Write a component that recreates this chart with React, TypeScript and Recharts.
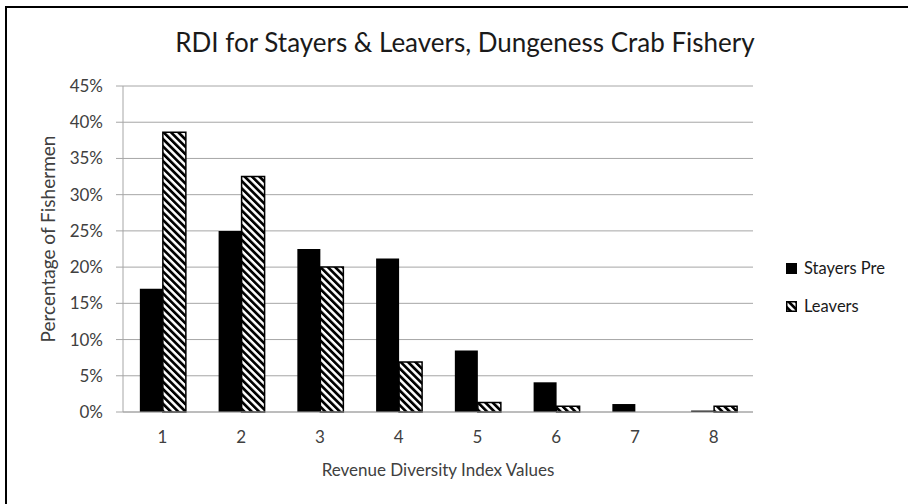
import { BarChart, Bar, XAxis, YAxis, CartesianGrid } from "recharts";

const categories = ["1", "2", "3", "4", "5", "6", "7", "8"];
const stayersPre = [17.0, 25.0, 22.5, 21.2, 8.5, 4.1, 1.1, 0.2];
const leavers = [38.6, 32.5, 20.0, 6.9, 1.3, 0.8, 0, 0.8];
const yTicks = [0, 5, 10, 15, 20, 25, 30, 35, 40, 45];

const data = categories.map((name, i) => ({
  name,
  stayers: stayersPre[i],
  leavers: leavers[i],
}));

const FONT = "Lato, sans-serif";
const TEXT = "#404040";
const GRID = "#a6a6a6";

const HatchDef = ({ id }: { id: string }) => (
  <pattern
    id={id}
    patternUnits="userSpaceOnUse"
    width={5.2}
    height={5.2}
    patternTransform="rotate(-45)"
  >
    <rect x={0} y={0} width={5.2} height={5.2} fill="#fff" />
    <rect x={0} y={0} width={2.7} height={5.2} fill="#000" />
  </pattern>
);

// legend drawn outside recharts so it doesn't eat into the plot area
const ChartLegend = () => (
  <div
    style={{
      position: "absolute",
      left: 786,
      top: 258,
      fontFamily: FONT,
      fontSize: 16.5,
      color: "#1a1a1a",
    }}
  >
    <div style={{ display: "flex", alignItems: "center", height: 20 }}>
      <svg width={11} height={11} style={{ marginRight: 7 }}>
        <rect x={0} y={0} width={11} height={11} fill="#000" />
      </svg>
      Stayers Pre
    </div>
    <div
      style={{ display: "flex", alignItems: "center", height: 20, marginTop: 18 }}
    >
      <svg width={11} height={11} style={{ marginRight: 7 }}>
        <defs>
          <HatchDef id="hatchLegend" />
        </defs>
        <rect
          x={0.75}
          y={0.75}
          width={9.5}
          height={9.5}
          fill="url(#hatchLegend)"
          stroke="#000"
          strokeWidth={1.5}
        />
      </svg>
      Leavers
    </div>
  </div>
);

export default function App() {
  return (
    <div style={{ position: "fixed", left: 0, top: 0, width: 908, height: 504, background: "#fff" }}>
      <div
        style={{
          position: "absolute",
          left: 5,
          top: 6,
          width: 930,
          height: 530,
          borderTop: "2px solid #000",
          borderLeft: "2px solid #000",
        }}
      />
      <BarChart
        width={908}
        height={504}
        data={data}
        margin={{ top: 86, right: 155, bottom: 32, left: 0 }}
        barCategoryGap="21.4%"
        barGap={0}
        style={{ position: "absolute", left: 0, top: 0 }}
      >
        <defs>
          <HatchDef id="hatchBar" />
        </defs>
        <CartesianGrid stroke={GRID} vertical={false} />
        <XAxis
          dataKey="name"
          height={60}
          tickLine={false}
          tickSize={0}
          tickMargin={19}
          axisLine={{ stroke: GRID }}
          tick={{ fill: TEXT, fontSize: 17, fontFamily: FONT }}
        />
        <YAxis
          width={123}
          domain={[0, 45]}
          ticks={yTicks}
          interval={0}
          tickFormatter={(v: number) => `${v}%`}
          tickSize={7}
          tickMargin={13}
          tickLine={{ stroke: GRID }}
          axisLine={{ stroke: GRID }}
          tick={{ fill: TEXT, fontSize: 17, fontFamily: FONT }}
        />
        <Bar dataKey="stayers" name="Stayers Pre" fill="#000" isAnimationActive={false} />
        <Bar
          dataKey="leavers"
          name="Leavers"
          fill="url(#hatchBar)"
          stroke="#000"
          strokeWidth={1.5}
          isAnimationActive={false}
        />
      </BarChart>
      <ChartLegend />
      <svg
        width={908}
        height={504}
        style={{ position: "absolute", left: 0, top: 0, pointerEvents: "none" }}
      >
        <text
          x={465}
          y={52}
          textAnchor="middle"
          fontFamily={FONT}
          fontSize={26}
          fill="#1a1a1a"
        >
          RDI for Stayers &amp; Leavers, Dungeness Crab Fishery
        </text>
        <text
          x={438}
          y={476}
          textAnchor="middle"
          fontFamily={FONT}
          fontSize={17}
          fill={TEXT}
        >
          Revenue Diversity Index Values
        </text>
        <text
          x={55}
          y={239}
          textAnchor="middle"
          transform="rotate(-90 55 239)"
          fontFamily={FONT}
          fontSize={19}
          fill={TEXT}
        >
          Percentage of Fishermen
        </text>
      </svg>
    </div>
  );
}
